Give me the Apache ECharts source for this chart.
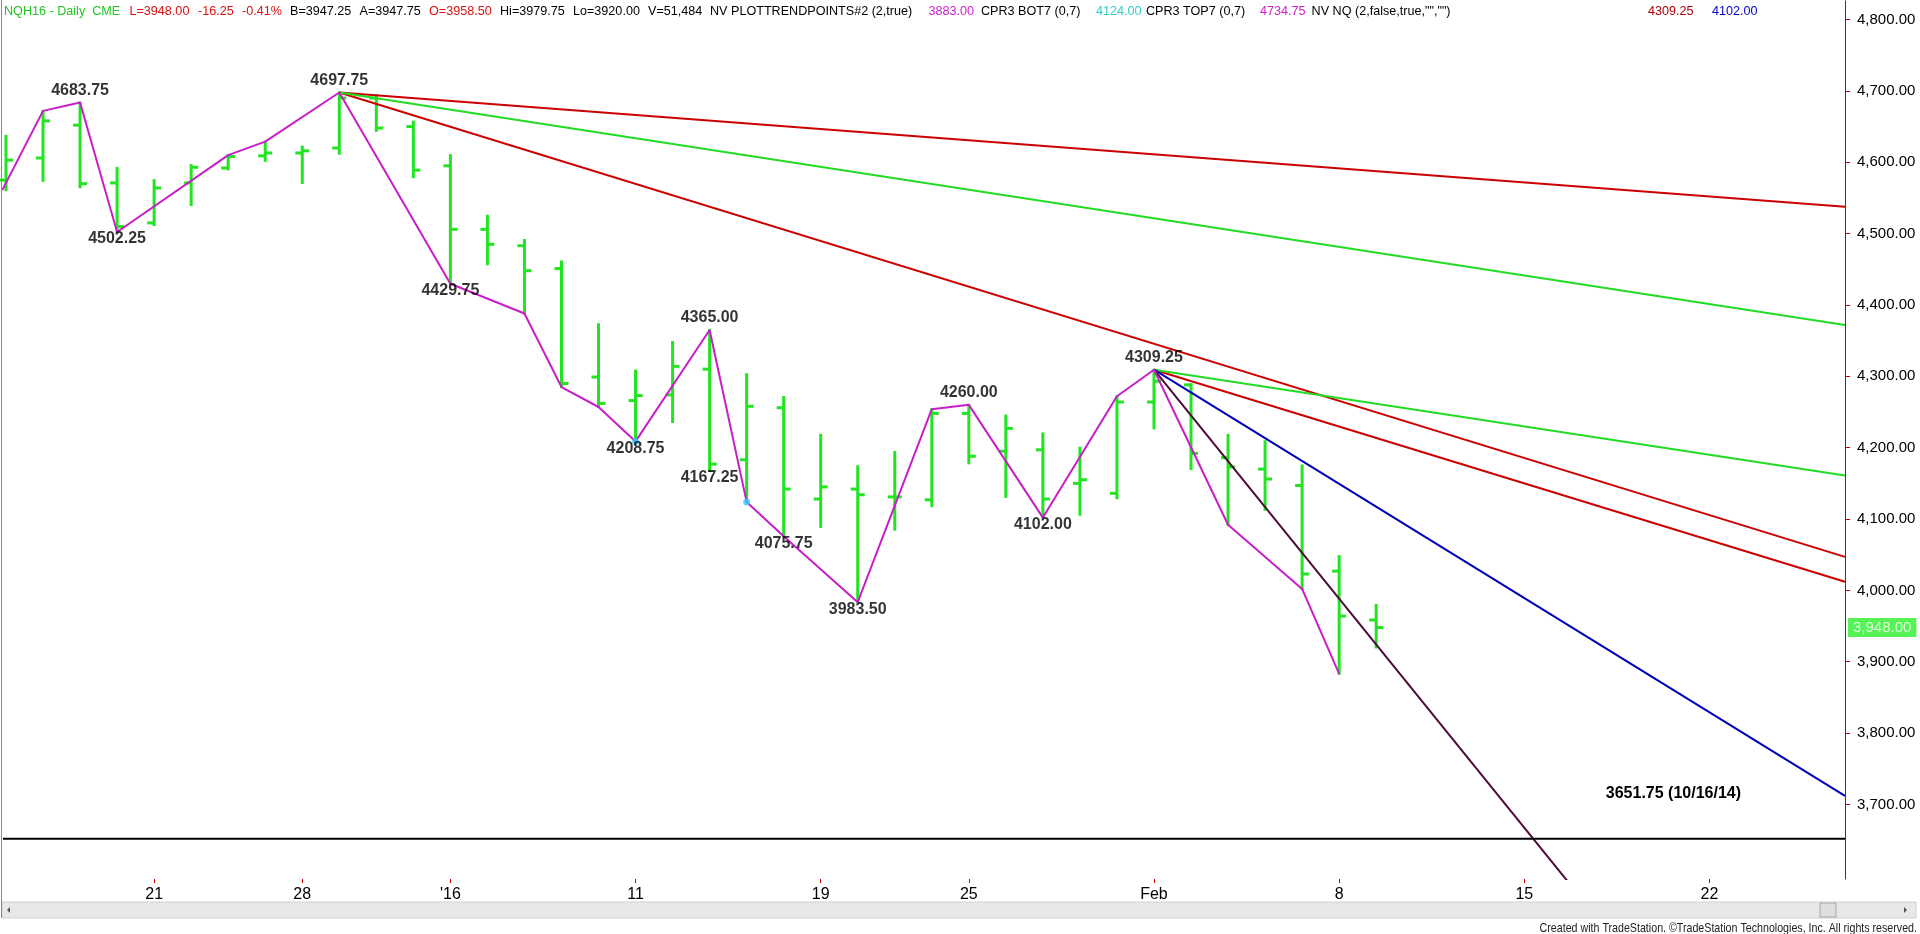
<!DOCTYPE html>
<html>
<head>
<meta charset="utf-8">
<script src="https://cdn.jsdelivr.net/npm/echarts@6/dist/echarts.min.js"></script>
<style>
html,body{margin:0;padding:0;background:#fff;}
#c{width:1920px;height:934px;}
</style>
</head>
<body>
<div id="c"></div>
<script>
// ---------------- data ----------------
const barDates = ['Dec 15','Dec 16','Dec 17','Dec 18','Dec 21','Dec 22','Dec 23','Dec 24','Dec 28','Dec 29','Dec 30','Dec 31',
  'Jan 4','Jan 5','Jan 6','Jan 7','Jan 8','Jan 11','Jan 12','Jan 13','Jan 14','Jan 15','Jan 19','Jan 20','Jan 21','Jan 22',
  'Jan 25','Jan 26','Jan 27','Jan 28','Jan 29','Feb 1','Feb 2','Feb 3','Feb 4','Feb 5','Feb 8','Feb 9'];
const barOpen  = [4575,4606,4652,4571,4515,4571,4592,4609,4613,4620,4690,4650,4595,4506,4483,4451,4299,4266,4274,4310,4183,4256,4128,4142,4131,4127,4248,4195,4197,4150,4136,4264,4288,4186,4170,4147,4027,3958.5];
const barHigh  = [4637,4672,4683.75,4592,4575,4596,4610,4629,4622,4697.75,4694,4657,4610,4525,4491,4461,4373,4308,4348,4365,4303,4271,4218,4174,4194,4254,4260,4245,4220,4200,4272,4309.25,4289,4218,4209,4175,4048,3979.75];
const barLow   = [4561,4574,4565,4502.25,4512,4540,4590,4602,4571,4612,4644,4579,4429.75,4457,4388,4285,4257,4208.75,4236,4167.25,4124,4075.75,4089,3983.5,4085,4118,4178,4131,4102,4106,4129,4227,4170,4092,4113,4002,3883,3920];
const barClose = [4603,4658,4570,4510,4564,4593,4608,4613,4616,4690,4648,4589,4506,4485,4448,4290,4262,4273,4314,4177,4258,4142,4145,4134,4131,4248,4188,4227,4128,4155,4264,4293,4192,4173,4156,4023,3964,3948];

// x tick labels (trading-day index -> label)
const xTickIdx  = [4, 8, 12, 17, 22, 26, 31, 36, 41, 46];
const xTickText = ['21', '28', "'16", '11', '19', '25', 'Feb', '8', '15', '22'];
const yTickVals = [3700, 3800, 3900, 4000, 4100, 4200, 4300, 4400, 4500, 4600, 4700, 4800];

// swing-point zigzag (PLOTTRENDPOINTS)
const zigzag = [[-0.1,4561],[1,4672],[2,4683.75],[3,4502.25],[6,4610],[7,4629],[9,4697.75],[12,4429.75],[14,4388],[15,4285],
  [16,4257],[17,4208.75],[19,4365],[20,4124],[21,4075.75],[23,3983.5],[25,4254],[26,4260],[28,4102],[30,4272],[31,4309.25],
  [33,4092],[35,4002],[36,3883]];
const pivotHighs = [[2,4683.75],[9,4697.75],[19,4365],[26,4260],[31,4309.25]];
const pivotLows  = [[3,4502.25],[12,4429.75],[17,4208.75],[19,4167.25],[21,4075.75],[23,3983.5],[28,4102]];
const cyanPts = [[17,4208.75],[20,4124]];

// trend lines: [startIdx, startVal, endIdx, endVal]
const redLines   = [[9,4697.75,49.66,4537.5],[9,4697.75,49.66,4047],[31,4309.25,49.66,4012]];
const greenLines = [[9,4697.75,49.66,4372],[31,4309.25,49.66,4161]];
const blueLines  = [[31,4309.25,49.66,3712]];
const maroonLines= [[31,4309.25,43,3539]];
const supportLevel = 3651.75;
const supportText = '3651.75 (10/16/14)';
const lastPrice = 3948.00;

// header pieces
const headerText = ['NQH16 - Daily  CME','L=3948.00','-16.25','-0.41%','B=3947.25','A=3947.75','O=3958.50','Hi=3979.75','Lo=3920.00',
  'V=51,484','NV','PLOTTRENDPOINTS#2 (2,true)','3883.00','CPR3 BOT7 (0,7)','4124.00','CPR3 TOP7 (0,7)','4734.75',
  'NV NQ (2,false,true,"","")','4309.25','4102.00'];
const footerText = 'Created with TradeStation. \u00A9TradeStation Technologies, Inc. All rights reserved.';

// ---------------- layout / style ----------------
const headerX = [4,129.5,198,242,290,359.5,429,500,573,648,710,731,928.6,981,1096,1146,1260,1311.6,1648,1712];
const headerColor = ['#22c422','#dd1111','#dd1111','#dd1111','#000','#000','#dd1111','#000','#000','#000','#000','#000',
  '#d020d0','#000','#33cccc','#000','#d020d0','#000','#b00000','#0000cc'];
const X_MIN = -0.081, X_MAX = 49.66, Y_MIN = 3595.5, Y_MAX = 4826;
const GREEN = '#22e422';
const fontMain = '"Liberation Sans", Arial, sans-serif';

const chart = echarts.init(document.getElementById('c'), null, {renderer: 'canvas'});

const ohlc = barOpen.map((o, i) => [i, o, barHigh[i], barLow[i], barClose[i]]);

function lineSeries(arr, color, width) {
  return arr.map(s => ({
    type: 'line', data: [[s[0], s[1]], [s[2], s[3]]], showSymbol: false, symbol: 'none',
    lineStyle: {color: color, width: width}, z: 4, silent: true, animation: false, clip: true
  }));
}
const fmt2 = v => v.toLocaleString('en-US', {minimumFractionDigits: 2, maximumFractionDigits: 2});

const series = [
  {
    type: 'custom', data: ohlc, z: 2, animation: false, silent: true,
    renderItem: function (params, api) {
      const x = api.value(0);
      const pO = api.coord([x, api.value(1)]);
      const pH = api.coord([x, api.value(2)]);
      const pL = api.coord([x, api.value(3)]);
      const pC = api.coord([x, api.value(4)]);
      const st = {stroke: GREEN, lineWidth: 3};
      return {type: 'group', children: [
        {type: 'line', shape: {x1: pH[0], y1: pH[1] - 1, x2: pL[0], y2: pL[1] + 1}, style: st},
        {type: 'line', shape: {x1: pO[0] - 7, y1: pO[1], x2: pO[0], y2: pO[1]}, style: st},
        {type: 'line', shape: {x1: pC[0], y1: pC[1], x2: pC[0] + 7, y2: pC[1]}, style: st}
      ]};
    }
  },
  ...lineSeries(redLines, '#cc0000', 2),
  ...lineSeries(greenLines, '#22dd22', 2),
  ...lineSeries(blueLines, '#0000bb', 2),
  ...lineSeries(maroonLines, '#4d0b38', 2),
  {
    type: 'line', data: zigzag, showSymbol: false, symbol: 'none', z: 5, silent: true, animation: false,
    lineStyle: {color: '#c81ec8', width: 2}
  },
  {
    type: 'line', data: [[X_MIN, supportLevel], [X_MAX, supportLevel]], showSymbol: false, symbol: 'none', z: 4,
    silent: true, animation: false, lineStyle: {color: '#000', width: 2},
    endLabel: {show: true, formatter: supportText, align: 'right', offset: [-112, -45],
      fontFamily: fontMain, fontWeight: 'bold', fontSize: 16, color: '#000'}
  },
  {
    type: 'scatter', data: cyanPts, symbolSize: 7, z: 6, silent: true, animation: false,
    itemStyle: {color: '#33ccff'}
  },
  {
    type: 'scatter', data: pivotHighs, symbolSize: 0, z: 7, silent: true, animation: false,
    label: {show: true, position: 'top', distance: 4, formatter: p => p.value[1].toFixed(2),
      fontFamily: fontMain, fontWeight: 'bold', fontSize: 16, color: '#000'}
  },
  {
    type: 'scatter', data: pivotLows, symbolSize: 0, z: 7, silent: true, animation: false,
    label: {show: true, position: 'bottom', distance: -1, formatter: p => p.value[1].toFixed(2),
      fontFamily: fontMain, fontWeight: 'bold', fontSize: 16, color: '#000'}
  },
  {
    type: 'scatter', data: [[X_MAX, lastPrice]], symbolSize: 0, z: 8, silent: true, animation: false, clip: false,
    label: {show: true, position: 'right', distance: 3, formatter: p => fmt2(p.value[1]),
      fontFamily: fontMain, fontSize: 15, color: '#fff', backgroundColor: '#2bf02b', padding: [2, 5, 1, 5], lineHeight: 16}
  }
];

const graphics = headerText.map((t, i) => ({
  type: 'text', x: headerX[i], y: 12, z: 100, silent: true,
  style: {text: t, fill: headerColor[i], font: '12.6px ' + fontMain, verticalAlign: 'middle', align: 'left'}
}));
graphics.push(
  {type: 'rect', shape: {x: 2, y: 902, width: 1914, height: 16}, style: {fill: '#e8e8e8', stroke: '#d0d0d0'}, z: 90, silent: true},
  {type: 'rect', shape: {x: 1820, y: 903, width: 16, height: 14}, style: {fill: '#dedede', stroke: '#a8a8a8'}, z: 91, silent: true},
  {type: 'polygon', shape: {points: [[10, 907], [10, 913], [7, 910]]}, style: {fill: '#555'}, z: 91, silent: true},
  {type: 'polygon', shape: {points: [[1904, 907], [1904, 913], [1907, 910]]}, style: {fill: '#555'}, z: 91, silent: true},
  {type: 'line', shape: {x1: 1.5, y1: 0, x2: 1.5, y2: 918}, style: {stroke: '#8a8a8a', lineWidth: 1}, z: 92, silent: true},
  {type: 'text', x: 1917, y: 928, scaleX: 0.82, z: 100, silent: true,
   style: {text: footerText, fill: '#222', font: '13px ' + fontMain, align: 'right', verticalAlign: 'middle'}}
);

chart.setOption({
  animation: false,
  backgroundColor: '#fff',
  grid: {left: 3, right: 75, top: 1, bottom: 55, containLabel: false},
  xAxis: {
    type: 'value', min: X_MIN, max: X_MAX,
    splitLine: {show: false},
    axisLine: {show: false},
    axisTick: {show: true, customValues: xTickIdx, length: 4, lineStyle: {color: '#cc0000', width: 1}},
    axisLabel: {show: true, customValues: xTickIdx, margin: 8,
      formatter: v => { const k = xTickIdx.indexOf(Math.round(v)); return k >= 0 ? xTickText[k] : ''; },
      fontFamily: fontMain, fontSize: 16, color: '#000'}
  },
  yAxis: {
    type: 'value', position: 'right', min: Y_MIN, max: Y_MAX, scale: true,
    splitLine: {show: false},
    axisLine: {show: true, onZero: false, lineStyle: {color: '#c00000', width: 1}},
    axisTick: {show: true, customValues: yTickVals, inside: false, length: 5, lineStyle: {color: '#c00000'}},
    axisLabel: {show: true, customValues: yTickVals, margin: 12,
      formatter: fmt2, fontFamily: fontMain, fontSize: 15, color: '#000'}
  },
  series: series,
  graphic: graphics
});
</script>
</body>
</html>
